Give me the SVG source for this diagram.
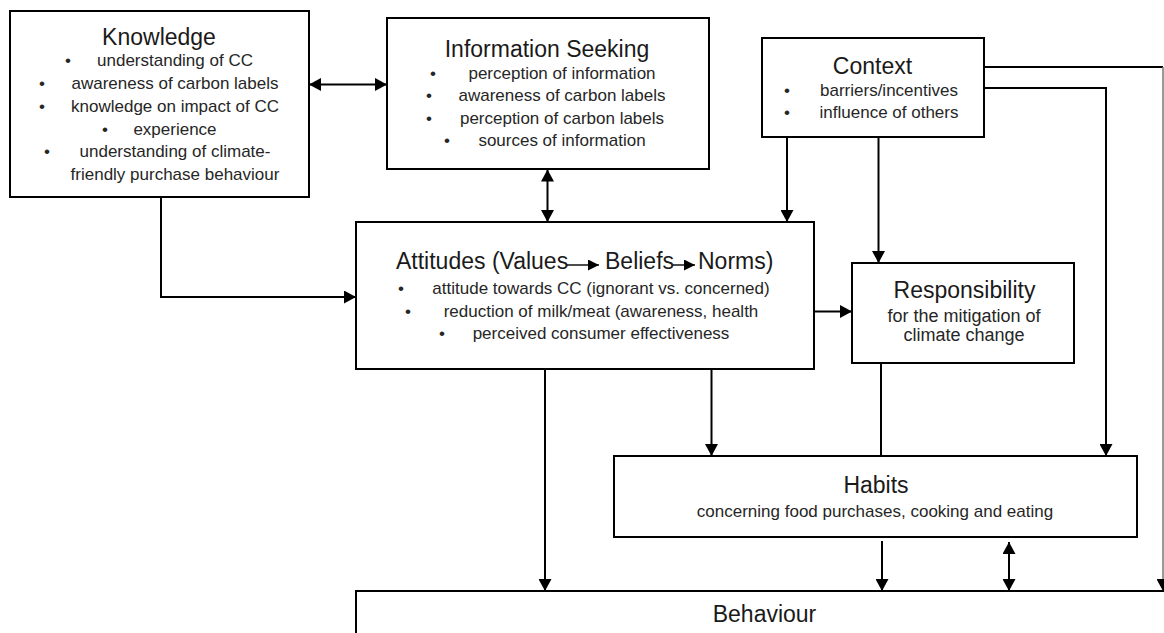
<svg xmlns="http://www.w3.org/2000/svg" width="1164" height="633" viewBox="0 0 1164 633">
<style>
.box{fill:#fff;stroke:#000;stroke-width:2}
.t{font-family:"Liberation Sans",Arial,sans-serif;font-size:23px;fill:#1a1a1a;text-anchor:middle}
.b{font-family:"Liberation Sans",Arial,sans-serif;font-size:17px;fill:#262626;text-anchor:middle}
.s{font-family:"Liberation Sans",Arial,sans-serif;font-size:18px;fill:#262626;text-anchor:middle}
.c{fill:none;stroke:#000;stroke-width:2}
</style>
<defs>
<marker id="ah" markerUnits="userSpaceOnUse" markerWidth="12" markerHeight="13" refX="12" refY="6.5" orient="auto-start-reverse" viewBox="0 0 12 13">
<path d="M0,0 L12,6.5 L0,13 z" fill="#000"/>
</marker>
<marker id="sh" markerUnits="userSpaceOnUse" markerWidth="11" markerHeight="11" refX="11" refY="5.5" orient="auto" viewBox="0 0 11 11">
<path d="M0,0 L11,5.5 L0,11 z" fill="#000"/>
</marker>
</defs>
<g id="connectors">
<path class="c" d="M309,84.5 H387" marker-start="url(#ah)" marker-end="url(#ah)"/>
<path class="c" d="M161,197 V297 H356" marker-end="url(#ah)"/>
<path class="c" d="M547.5,169.5 V222" marker-start="url(#ah)" marker-end="url(#ah)"/>
<path class="c" d="M787,137 V222" marker-end="url(#ah)"/>
<path class="c" d="M878.5,137 V263" marker-end="url(#ah)"/>
<path class="c" d="M984,88 H1106 V456" marker-end="url(#ah)"/>
<path class="c" d="M984,67 H1163" />
<path fill="none" stroke="#777" stroke-width="1.5" d="M1163,67 V591" marker-end="url(#ah)"/>
<path class="c" d="M814,311.5 H852" marker-end="url(#ah)"/>
<path class="c" d="M545,369 V591" marker-end="url(#ah)"/>
<path class="c" d="M711.5,369 V456" marker-end="url(#ah)"/>
<path class="c" d="M881,363 V456"/>
<path class="c" d="M882,541 V591" marker-end="url(#ah)"/>
<path class="c" d="M1009,542 V591" marker-start="url(#ah)" marker-end="url(#ah)"/>
</g>
<g id="knowledge">
<rect class="box" x="10" y="11" width="299" height="186"/>
<text class="t" x="159" y="45">Knowledge</text>
<text class="b" x="68" y="65.5">•</text><text class="b" x="175" y="65.5">understanding of CC</text>
<text class="b" x="42" y="89">•</text><text class="b" x="175" y="89">awareness of carbon labels</text>
<text class="b" x="42" y="112">•</text><text class="b" x="175" y="112">knowledge on impact of CC</text>
<text class="b" x="105" y="134.5">•</text><text class="b" x="175" y="134.5">experience</text>
<text class="b" x="47" y="157">•</text><text class="b" x="175" y="157">understanding of climate-</text>
<text class="b" x="175" y="180">friendly purchase behaviour</text>
</g>
<g id="information-seeking">
<rect class="box" x="387" y="18" width="322" height="151"/>
<text class="t" x="547" y="57">Information Seeking</text>
<text class="b" x="433" y="79">•</text><text class="b" x="562" y="79">perception of information</text>
<text class="b" x="429" y="101">•</text><text class="b" x="562" y="101">awareness of carbon labels</text>
<text class="b" x="429" y="123.5">•</text><text class="b" x="562" y="123.5">perception of carbon labels</text>
<text class="b" x="447" y="146">•</text><text class="b" x="562" y="146">sources of information</text>
</g>
<g id="context">
<rect class="box" x="762" y="38" width="222" height="99"/>
<text class="t" x="872.5" y="74">Context</text>
<text class="b" x="787" y="96">•</text><text class="b" x="889" y="96">barriers/incentives</text>
<text class="b" x="787" y="118">•</text><text class="b" x="889" y="118">influence of others</text>
</g>
<g id="attitudes">
<rect class="box" x="356" y="222" width="458" height="147"/>
<text class="t" y="269" style="text-anchor:start"><tspan x="396">Attitudes (Values</tspan><tspan x="605">Beliefs</tspan><tspan x="698">Norms)</tspan></text>
<path fill="none" stroke="#000" stroke-width="1.4" d="M567,265 H599" marker-end="url(#sh)"/>
<path fill="none" stroke="#000" stroke-width="1.4" d="M673,265 H695" marker-end="url(#sh)"/>
<text class="b" x="401" y="294">•</text><text class="b" x="601" y="294">attitude towards CC (ignorant vs. concerned)</text>
<text class="b" x="408" y="316.5">•</text><text class="b" x="601" y="316.5">reduction of milk/meat (awareness, health</text>
<text class="b" x="442" y="339">•</text><text class="b" x="601" y="339">perceived consumer effectiveness</text>
</g>
<g id="responsibility">
<rect class="box" x="852" y="263" width="222" height="100"/>
<text class="t" x="964.5" y="297.5">Responsibility</text>
<text class="s" x="964" y="321.5">for the mitigation of</text>
<text class="s" x="964" y="340.5">climate change</text>
</g>
<g id="habits">
<rect class="box" x="614" y="456" width="523" height="81"/>
<text class="t" x="876" y="493">Habits</text>
<text class="b" x="875" y="517">concerning food purchases, cooking and eating</text>
</g>
<g id="behaviour">
<rect class="box" x="356" y="591" width="900" height="100"/>
<text class="t" x="764.5" y="621.5">Behaviour</text>
</g>
</svg>
